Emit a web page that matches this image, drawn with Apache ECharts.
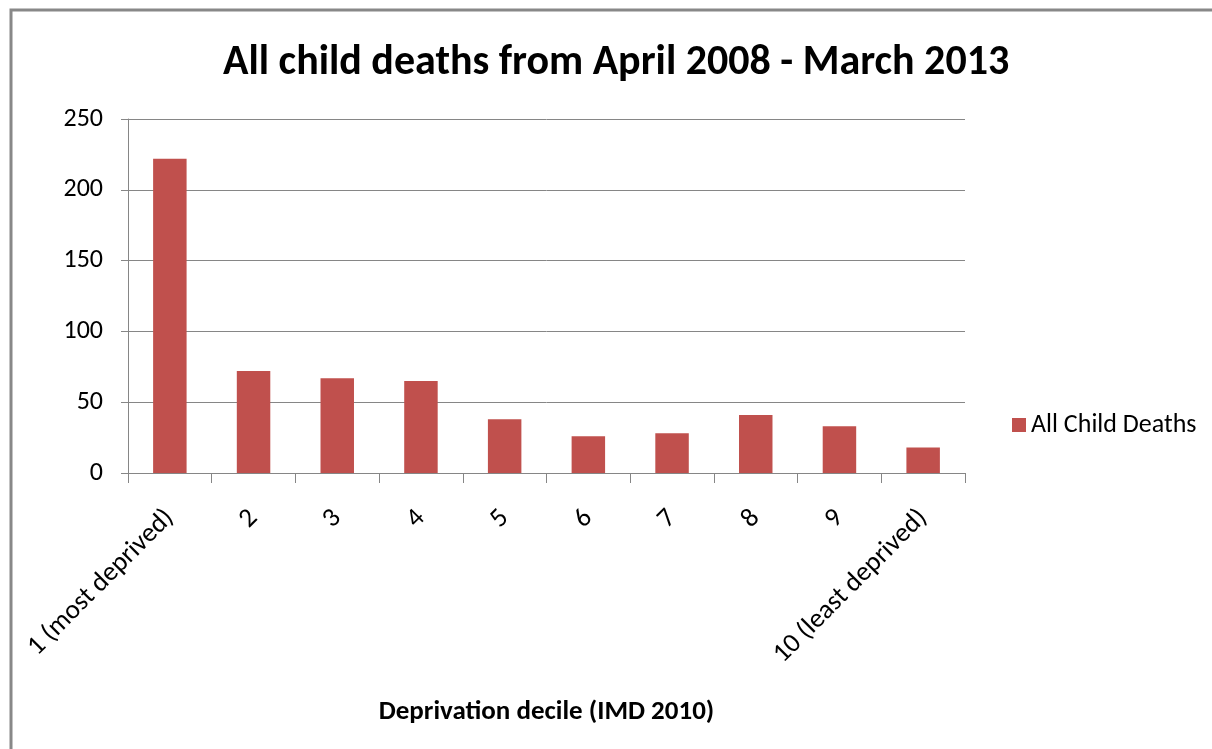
<!DOCTYPE html>
<html><head><meta charset="utf-8">
<script src="https://cdn.jsdelivr.net/npm/echarts@6/dist/echarts.min.js"></script>
<style>html,body{margin:0;padding:0;background:#fff}#c{width:1212px;height:749px}</style>
</head><body><div id="c"></div>
<script>
const categories = ['1 (most deprived)','2','3','4','5','6','7','8','9','10 (least deprived)'];
const seriesName = 'All Child Deaths';
const values = [222, 72, 67, 65, 38, 26, 28, 41, 33, 18];
const yTicks = {min: 0, max: 250, interval: 50};
const titleText = 'All child deaths from April 2008 - March 2013';
const xAxisName = 'Deprivation decile (IMD 2010)';

const FONT = "'Liberation Sans Narrow', Carlito, 'Open Sans', sans-serif";
const chart = echarts.init(document.getElementById('c'), null, {renderer: 'canvas'});
chart.setOption({
  backgroundColor: '#fff',
  animation: false,
  textStyle: {fontFamily: FONT},
  title: {text: titleText, left: 218, top: 37,
    textStyle: {fontFamily: FONT, fontSize: 42, fontWeight: 'bold', color: '#000'}},
  graphic: [{type: 'rect', shape: {x: 11, y: 10, width: 1300, height: 800},
    style: {fill: 'none', stroke: '#888', lineWidth: 3}, silent: true}],
  legend: {left: 1007, top: 407, itemWidth: 14, itemHeight: 14, itemGap: 10,
    textStyle: {fontFamily: FONT, fontSize: 26, color: '#000'},
    data: [{name: seriesName, icon: 'rect'}]},
  grid: {left: 128, right: 247, top: 119, bottom: 276, containLabel: false},
  xAxis: {type: 'category', data: categories,
    name: xAxisName, nameLocation: 'middle', nameGap: 226,
    nameTextStyle: {fontFamily: FONT, fontSize: 27, fontWeight: 'bold', color: '#000'},
    axisLine: {lineStyle: {color: '#868686', width: 1}},
    axisTick: {show: true, length: 10, lineStyle: {color: '#868686'}},
    axisLabel: {rotate: 45, fontSize: 27, color: '#000', margin: 41, interval: 0, fontFamily: FONT}},
  yAxis: {type: 'value', min: yTicks.min, max: yTicks.max, interval: yTicks.interval,
    axisLine: {show: true, lineStyle: {color: '#868686', width: 1}},
    axisTick: {show: true, length: 7, lineStyle: {color: '#868686'}},
    splitLine: {lineStyle: {color: '#868686', width: 1}},
    axisLabel: {fontSize: 26, color: '#000', margin: 25, fontFamily: FONT}},
  series: [{name: seriesName, type: 'bar', data: values, barCategoryGap: '60%',
    itemStyle: {color: '#C0504D'}}]
});
</script></body></html>
